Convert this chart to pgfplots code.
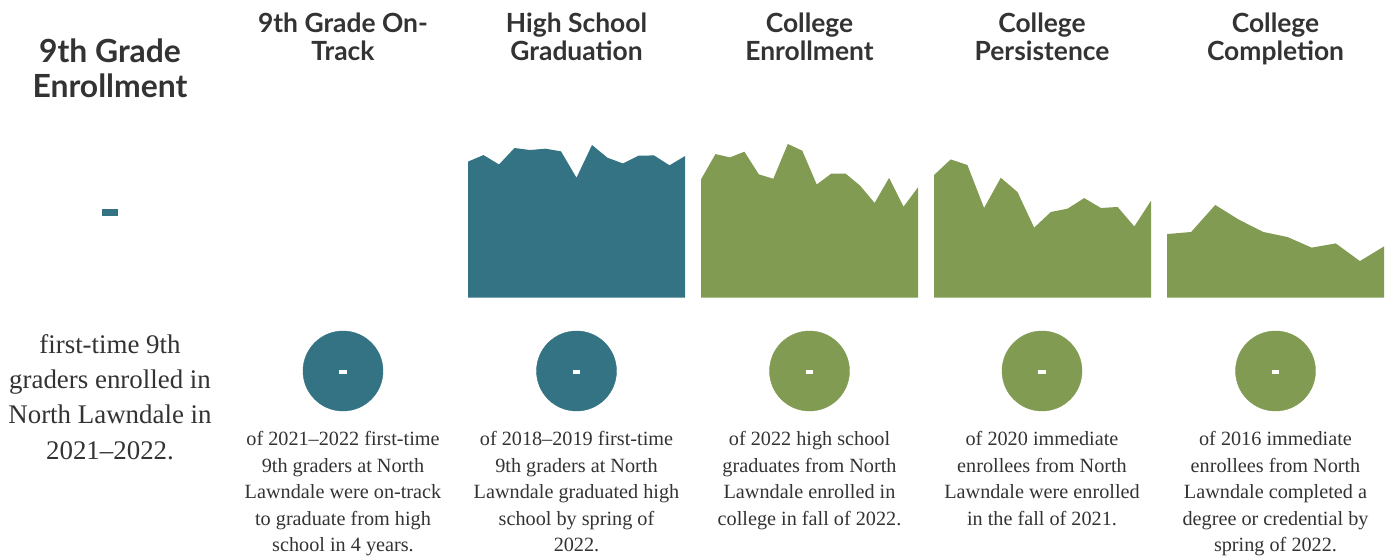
\documentclass[border=0pt]{standalone}
\usepackage{pgfplots}
\pgfplotsset{compat=1.18}
\usepackage{fontspec}
\setmainfont{Liberation Serif}
\newfontfamily\headfont{Lato}
\definecolor{nlteal}{HTML}{347383}
\definecolor{nlgreen}{HTML}{819B53}
\definecolor{ink}{HTML}{333333}

% one small area panel
\pgfplotsset{
  panel/.style={
    at={(#1)}, anchor=south west,
    scale only axis, hide axis, clip=false,
    width=217bp, height=168bp,
    ymin=0, ymax=100,
  },
  pixelframe/.style={
    at={(0,0)}, anchor=south west, scale only axis, hide axis,
    width=1393bp, height=558bp, xmin=0, xmax=1393, ymin=0, ymax=558,
    y dir=reverse, clip=false,
  },
}
\tikzset{
  head/.style={font=\headfont\bfseries\fontsize{26.5}{28}\selectfont, text=ink,
    align=center, anchor=north, inner sep=0pt},
  body/.style={font=\fontsize{20.3}{26.7}\selectfont, text=ink,
    align=center, anchor=north, inner sep=0pt},
  nodata/.style={inner sep=0pt, text=white},
}

\begin{document}
\begin{tikzpicture}
\path[use as bounding box] (0,0) rectangle (1393bp,558bp);

% circles (the values are missing, so each shows a dash)
\begin{axis}[pixelframe]
  \addplot[only marks, mark=*, mark size=40bp, nlteal] coordinates {(343,371) (576.5,371)};
  \addplot[only marks, mark=*, mark size=40bp, nlgreen] coordinates {(809.5,371) (1042,371) (1275.5,371)};
\end{axis}

% texts, in picture pixels (y downwards)
\begin{axis}[pixelframe]
  \node[head, font=\headfont\bfseries\fontsize{32}{34.5}\selectfont] at (axis cs:110,39) {9th Grade\\Enrollment};
  \node[head] at (axis cs:343,13) {9th Grade On-\\Track};
  \node[head] at (axis cs:576.5,13) {High School\\Graduation};
  \node[head] at (axis cs:809.5,13) {College\\Enrollment};
  \node[head] at (axis cs:1042,13) {College\\Persistence};
  \node[head] at (axis cs:1275.5,13) {College\\Completion};

  \node[nodata, text=nlteal] at (axis cs:110,212.5) {\rule{16bp}{7bp}};
  \node[nodata] at (axis cs:343,372) {\rule{7.5bp}{4bp}};
  \node[nodata] at (axis cs:576.5,372) {\rule{7.5bp}{4bp}};
  \node[nodata] at (axis cs:809.5,372) {\rule{7.5bp}{4bp}};
  \node[nodata] at (axis cs:1042,372) {\rule{7.5bp}{4bp}};
  \node[nodata] at (axis cs:1275.5,372) {\rule{7.5bp}{4bp}};

  \node[body, font=\fontsize{27}{35.5}\selectfont] at (axis cs:110,334) {first-time 9th\\graders enrolled in\\North Lawndale in\\2021--2022.};
  \node[body] at (axis cs:343,431) {of 2021--2022 first-time\\9th graders at North\\Lawndale were on-track\\to graduate from high\\school in 4 years.};
  \node[body] at (axis cs:576.5,431) {of 2018--2019 first-time\\9th graders at North\\Lawndale graduated high\\school by spring of\\2022.};
  \node[body] at (axis cs:809.5,431) {of 2022 high school\\graduates from North\\Lawndale enrolled in\\college in fall of 2022.};
  \node[body] at (axis cs:1042,431) {of 2020 immediate\\enrollees from North\\Lawndale were enrolled\\in the fall of 2021.};
  \node[body] at (axis cs:1275.5,431) {of 2016 immediate\\enrollees from North\\Lawndale completed a\\degree or credential by\\spring of 2022.};
\end{axis}

% High School Graduation
\begin{axis}[panel={468bp,260.3bp}, xmin=1, xmax=15]
  \addplot[fill=nlteal, draw=none] coordinates {
    (1,81.0) (2,84.9) (3,79.3) (4,89.1) (5,87.9) (6,88.7) (7,87.1) (8,71.4)
    (9,90.9) (10,83.3) (11,79.9) (12,84.5) (13,84.7) (14,78.8) (15,84.3)
  } \closedcycle;
\end{axis}

% College Enrollment
\begin{axis}[panel={701bp,260.3bp}, xmin=1, xmax=16]
  \addplot[fill=nlgreen, draw=none] coordinates {
    (1,70.4) (2,85.5) (3,83.5) (4,86.9) (5,73.4) (6,70.8) (7,91.5) (8,87.5)
    (9,67.4) (10,73.8) (11,73.8) (12,66.7) (13,56.4) (14,71.3) (15,54.2) (16,65.7)
  } \closedcycle;
\end{axis}

% College Persistence
\begin{axis}[panel={934bp,260.3bp}, xmin=1, xmax=14]
  \addplot[fill=nlgreen, draw=none] coordinates {
    (1,73.0) (2,82.3) (3,79.0) (4,53.4) (5,71.4) (6,62.9) (7,41.7)
    (8,51.0) (9,53.0) (10,59.3) (11,53.4) (12,54.0) (13,42.4) (14,57.7)
  } \closedcycle;
\end{axis}

% College Completion
\begin{axis}[panel={1167bp,260.3bp}, xmin=1, xmax=10]
  \addplot[fill=nlgreen, draw=none] coordinates {
    (1,37.9) (2,39.1) (3,55.2) (4,46.3) (5,39.1)
    (6,36.1) (7,29.8) (8,32.3) (9,21.8) (10,30.5)
  } \closedcycle;
\end{axis}
\end{tikzpicture}
\end{document}
